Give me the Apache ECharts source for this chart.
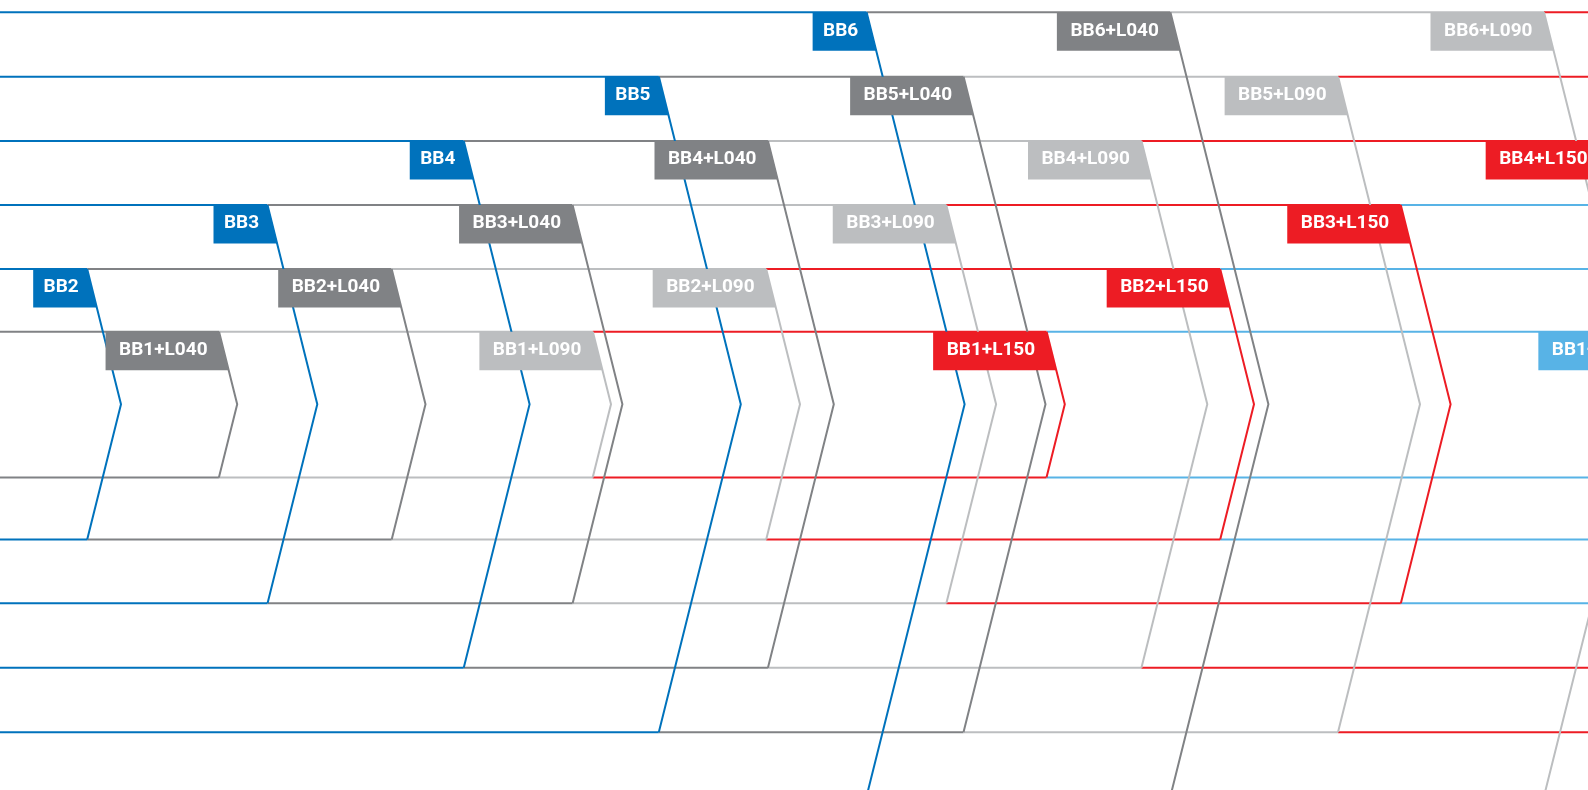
<!DOCTYPE html>
<html>
<head>
<meta charset="utf-8">
<script src="https://cdn.jsdelivr.net/npm/echarts@6/dist/echarts.min.js"></script>
<style>
html,body{margin:0;padding:0;background:#fff;}
#chart{width:1588px;height:790px;}
</style>
</head>
<body>
<div id="chart"></div>
<script>
// ---- data ----
const rowNames   = ['BB1', 'BB2', 'BB3', 'BB4', 'BB5', 'BB6'];
const stageNames = ['', '+L040', '+L090', '+L150', '+L220'];
const rowTop     = [331.7, 269, 205, 141, 76.7, 12.3];
const rowBottom  = [477.5, 539.5, 603.3, 667.7, 732.3, 796.5];
const tipLevel   = 404.3;
const tipBB      = [-67, 121, 317.3, 529.6, 740.8, 964.6];
const tipL040    = [237.2, 425.5, 622.4, 833.8, 1045.5, 1268.4];
const tipL090    = [611, 800, 996.1, 1207.3, 1420, 1642];
const tipL150    = [1064.8, 1254, 1450.6, 1665, 1874, 2096];
const tipL220    = [1670, 1860, 2057, 2270, 2480, 2700];
const stageTips  = [tipBB, tipL040, tipL090, tipL150, tipL220];
const stageColors = ['#0072BC', '#808285', '#BCBEC0', '#ED1C24', '#58B3E6'];
const SLOPE = 0.25;

function topX(tip, r) { return tip - SLOPE * (tipLevel - rowTop[r]); }
function botX(tip, r) { return tip - SLOPE * (rowBottom[r] - tipLevel); }

const items = [];
stageTips.forEach((arr, s) => arr.forEach((tip, r) => items.push([tip, r, s])));

const LW = 2;

function horizRender(params, api) {
  const tip = api.value(0), r = api.value(1), s = api.value(2);
  const prev = s > 0 ? stageTips[s - 1][r] : null;
  const x0t = prev == null ? -400 : topX(prev, r);
  const x0b = prev == null ? -400 : botX(prev, r);
  const col = stageColors[s];
  return {
    type: 'group',
    children: [
      { type: 'polyline', shape: { points: [api.coord([x0t, rowTop[r]]), api.coord([topX(tip, r), rowTop[r]])] },
        style: { stroke: col, lineWidth: LW, fill: null } },
      { type: 'polyline', shape: { points: [api.coord([x0b, rowBottom[r]]), api.coord([botX(tip, r), rowBottom[r]])] },
        style: { stroke: col, lineWidth: LW, fill: null } }
    ]
  };
}

function chevronRender(params, api) {
  const tip = api.value(0), r = api.value(1), s = api.value(2);
  return {
    type: 'polyline',
    shape: { points: [api.coord([topX(tip, r), rowTop[r]]), api.coord([tip, tipLevel]), api.coord([botX(tip, r), rowBottom[r]])] },
    style: { stroke: stageColors[s], lineWidth: LW, fill: null, lineJoin: 'miter' }
  };
}

function labelRender(params, api) {
  const tip = api.value(0), r = api.value(1), s = api.value(2);
  const p = api.coord([topX(tip, r), rowTop[r]]);
  const w = s === 0 ? 54 : 113.5;
  const h = 38.5;
  const x = p[0], y = p[1];
  return {
    type: 'group',
    children: [
      { type: 'polygon', shape: { points: [[x - w, y], [x, y], [x + SLOPE * h, y + h], [x - w, y + h]] },
        style: { fill: stageColors[s] } },
      { type: 'text', x: x - w / 2 + 1, y: y + 18.5,
        style: { text: rowNames[r] + stageNames[s], fill: '#ffffff', font: 'bold 19px Roboto', align: 'center', verticalAlign: 'middle' } }
    ]
  };
}

const chart = echarts.init(document.getElementById('chart'), null, { renderer: 'canvas' });
chart.setOption({
  animation: false,
  backgroundColor: '#ffffff',
  grid: { left: 0, right: 0, top: 0, bottom: 0 },
  xAxis: { type: 'value', min: 0, max: 1588, show: false },
  yAxis: { type: 'value', min: 0, max: 790, inverse: true, show: false },
  series: [
    { type: 'custom', renderItem: horizRender, data: items, z: 1, clip: false, silent: true },
    { type: 'custom', renderItem: chevronRender, data: items, z: 2, clip: false, silent: true },
    { type: 'custom', renderItem: labelRender, data: items, z: 3, clip: false, silent: true }
  ]
});
</script>
</body>
</html>
